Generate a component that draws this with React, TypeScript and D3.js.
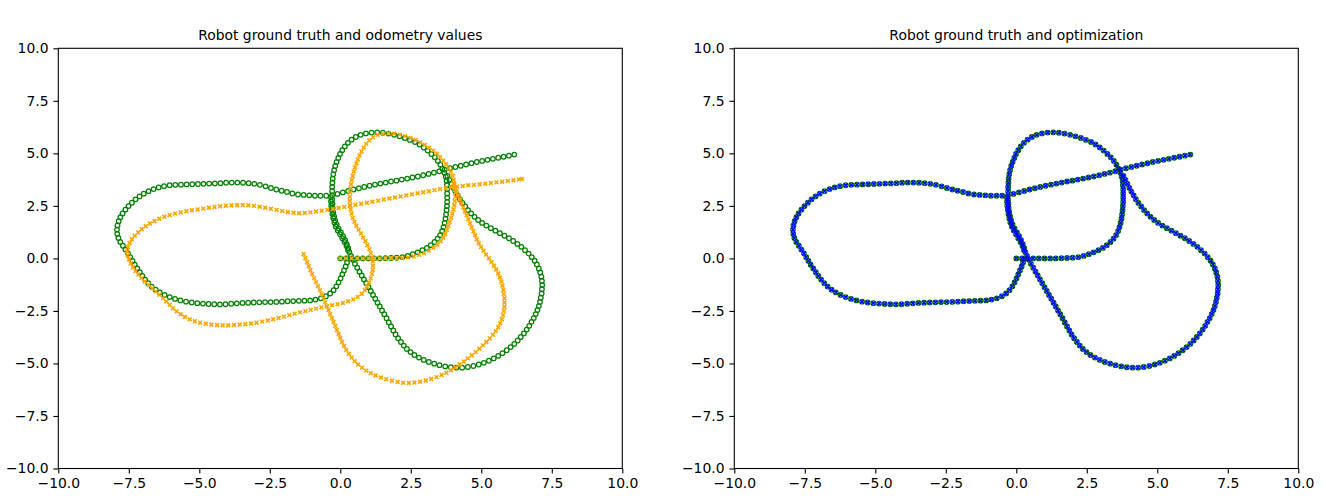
import { useEffect, useRef } from "react"
import * as d3 from "d3"

type Pt = [number, number]

const tickValues = [-10, -7.5, -5, -2.5, 0, 2.5, 5, 7.5, 10]
const tickLabels = ["−10.0", "−7.5", "−5.0", "−2.5", "0.0", "2.5", "5.0", "7.5", "10.0"]
const titles = ["Robot ground truth and odometry values", "Robot ground truth and optimization"]

// ground truth: start line, up the right side, around the top loop, down its left side
const gtStart: Pt[] = [
  [0, 0], [0.2, 0], [0.4, 0], [0.6, 0], [0.8, 0], [1.0, 0], [1.2, 0], [1.4, 0], [1.6, 0.01], [1.8, 0.02],
  [2.0, 0.03], [2.2, 0.06], [2.39, 0.12], [2.57, 0.2], [2.74, 0.29], [2.91, 0.39], [3.07, 0.5], [3.21, 0.63],
  [3.34, 0.78], [3.45, 0.94], [3.54, 1.11], [3.61, 1.3], [3.66, 1.49], [3.7, 1.69], [3.73, 1.89], [3.75, 2.09],
  [3.77, 2.29], [3.78, 2.49], [3.79, 2.69], [3.79, 2.89], [3.79, 3.09], [3.79, 3.29], [3.78, 3.49], [3.77, 3.69],
  [3.74, 3.89], [3.69, 4.08], [3.62, 4.27], [3.55, 4.46], [3.46, 4.64], [3.35, 4.81], [3.23, 4.97], [3.1, 5.13],
  [2.96, 5.28], [2.81, 5.42], [2.65, 5.54], [2.47, 5.64], [2.29, 5.73], [2.1, 5.81], [1.91, 5.88], [1.71, 5.94],
  [1.51, 5.98], [1.31, 6.0], [1.11, 5.99], [0.91, 5.95], [0.72, 5.88], [0.55, 5.78], [0.4, 5.65], [0.27, 5.5],
  [0.16, 5.33], [0.07, 5.15], [-0.01, 4.97], [-0.07, 4.78], [-0.13, 4.59], [-0.18, 4.4], [-0.22, 4.2], [-0.25, 4.0],
  [-0.27, 3.8], [-0.28, 3.6], [-0.29, 3.4], [-0.29, 3.2], [-0.29, 3.0], [-0.29, 2.8], [-0.28, 2.6], [-0.27, 2.4],
  [-0.25, 2.2], [-0.22, 2.0], [-0.18, 1.8], [-0.13, 1.61], [-0.06, 1.42], [0.02, 1.24], [0.1, 1.06], [0.17, 0.87],
  [0.23, 0.68], [0.28, 0.49], [0.32, 0.3],
]

// ground truth: down to the lower right loop and back up to the crossing
const gtRightLoop: Pt[] = [
  [0.38, 0.12], [0.45, -0.07], [0.52, -0.26], [0.6, -0.44], [0.68, -0.63], [0.76, -0.81], [0.84, -1.0], [0.92, -1.18],
  [1.0, -1.37], [1.08, -1.55], [1.16, -1.74], [1.24, -1.92], [1.32, -2.11], [1.4, -2.29], [1.48, -2.48], [1.56, -2.66],
  [1.64, -2.85], [1.72, -3.05], [1.8, -3.24], [1.88, -3.43], [1.96, -3.62], [2.05, -3.8], [2.15, -3.98], [2.25, -4.15],
  [2.36, -4.31], [2.49, -4.46], [2.63, -4.6], [2.79, -4.72], [2.96, -4.83], [3.14, -4.93], [3.33, -5.01], [3.52, -5.08],
  [3.72, -5.14], [3.92, -5.18], [4.12, -5.2], [4.32, -5.2], [4.52, -5.17], [4.72, -5.12], [4.91, -5.05], [5.09, -4.97],
  [5.27, -4.87], [5.44, -4.76], [5.6, -4.64], [5.75, -4.51], [5.9, -4.37], [6.04, -4.22], [6.17, -4.07], [6.29, -3.91],
  [6.4, -3.74], [6.51, -3.57], [6.61, -3.39], [6.7, -3.21], [6.78, -3.02], [6.86, -2.84], [6.93, -2.65], [6.99, -2.46],
  [7.04, -2.27], [7.08, -2.07], [7.11, -1.87], [7.14, -1.67], [7.15, -1.47], [7.16, -1.27], [7.15, -1.07], [7.13, -0.87],
  [7.09, -0.67], [7.04, -0.48], [6.97, -0.29], [6.89, -0.11], [6.79, 0.06], [6.68, 0.23], [6.55, 0.39], [6.42, 0.55],
  [6.28, 0.69], [6.13, 0.83], [5.98, 0.96], [5.82, 1.08], [5.66, 1.2], [5.5, 1.32], [5.34, 1.44], [5.18, 1.56],
  [5.03, 1.69], [4.89, 1.83], [4.76, 1.98], [4.64, 2.14], [4.53, 2.3], [4.43, 2.47], [4.33, 2.64], [4.24, 2.82],
  [4.16, 3.0], [4.08, 3.18], [4.01, 3.36], [3.94, 3.55], [3.87, 3.74], [3.8, 3.92],
]

// ground truth: the straight run out to the end point
const gtCrossLine: Pt[] = [
  [-0.1, 3.07], [0.09, 3.14], [0.28, 3.21], [0.47, 3.28], [0.66, 3.34], [0.85, 3.4], [1.04, 3.46], [1.23, 3.51],
  [1.42, 3.56], [1.61, 3.61], [1.8, 3.66], [1.99, 3.7], [2.18, 3.75], [2.37, 3.8], [2.56, 3.85], [2.75, 3.9],
  [2.94, 3.96], [3.13, 4.02], [3.32, 4.08], [3.51, 4.15], [3.7, 4.22], [3.89, 4.29], [4.08, 4.35], [4.27, 4.41],
  [4.46, 4.47], [4.65, 4.53], [4.84, 4.59], [5.03, 4.64], [5.22, 4.69], [5.41, 4.74], [5.6, 4.79], [5.79, 4.84],
  [5.98, 4.89], [6.17, 4.94],
]

// ground truth: the big loop on the left
const gtLeftLoop: Pt[] = [
  [-0.5, 2.98], [-0.7, 2.98], [-0.9, 2.98], [-1.1, 3.0], [-1.3, 3.02], [-1.5, 3.04], [-1.7, 3.09], [-1.89, 3.16],
  [-2.08, 3.22], [-2.27, 3.28], [-2.46, 3.35], [-2.65, 3.43], [-2.85, 3.5], [-3.05, 3.55], [-3.25, 3.58], [-3.45, 3.6],
  [-3.65, 3.61], [-3.85, 3.61], [-4.05, 3.6], [-4.25, 3.58], [-4.45, 3.57], [-4.65, 3.56], [-4.85, 3.55], [-5.05, 3.54],
  [-5.25, 3.53], [-5.45, 3.52], [-5.65, 3.51], [-5.85, 3.5], [-6.05, 3.48], [-6.25, 3.44], [-6.44, 3.38], [-6.62, 3.3],
  [-6.8, 3.2], [-6.97, 3.08], [-7.12, 2.95], [-7.26, 2.81], [-7.39, 2.65], [-7.51, 2.49], [-7.62, 2.32], [-7.72, 2.14],
  [-7.8, 1.96], [-7.86, 1.77], [-7.9, 1.57], [-7.92, 1.37], [-7.91, 1.17], [-7.87, 0.97], [-7.8, 0.78], [-7.71, 0.6],
  [-7.62, 0.42], [-7.53, 0.24], [-7.45, 0.06], [-7.37, -0.12], [-7.29, -0.3], [-7.2, -0.48], [-7.11, -0.66], [-7.02, -0.84],
  [-6.92, -1.01], [-6.81, -1.18], [-6.69, -1.34], [-6.55, -1.49], [-6.4, -1.62], [-6.23, -1.74], [-6.05, -1.84], [-5.86, -1.93],
  [-5.67, -2.0], [-5.47, -2.06], [-5.27, -2.1], [-5.07, -2.13], [-4.87, -2.15], [-4.67, -2.17], [-4.47, -2.18], [-4.27, -2.19],
  [-4.07, -2.18], [-3.87, -2.16], [-3.67, -2.14], [-3.47, -2.12], [-3.27, -2.11], [-3.07, -2.1], [-2.87, -2.09], [-2.67, -2.08],
  [-2.47, -2.08], [-2.27, -2.07], [-2.07, -2.06], [-1.87, -2.04], [-1.67, -2.03], [-1.47, -2.02], [-1.27, -2.01], [-1.07, -2.0],
  [-0.88, -1.96], [-0.69, -1.9], [-0.51, -1.8], [-0.36, -1.67], [-0.24, -1.51], [-0.14, -1.33], [-0.06, -1.14], [0.01, -0.95],
  [0.07, -0.76], [0.13, -0.57], [0.19, -0.38], [0.24, -0.19], [0.28, 0.0],
]

// ground truth: second pass up the left side of the top loop
const gtReturn: Pt[] = [
  [0.27, 0.4], [0.22, 0.59], [0.15, 0.78], [0.07, 0.96], [-0.01, 1.15], [-0.09, 1.33], [-0.16, 1.52], [-0.21, 1.71],
  [-0.25, 1.91], [-0.28, 2.11], [-0.3, 2.31], [-0.32, 2.51], [-0.33, 2.71], [-0.33, 2.91],
]

// odometry: start line, top loop, down its left side
const odoStart: Pt[] = [
  [0, 0], [0.2, 0], [0.4, 0], [0.6, 0], [0.8, 0], [1.0, 0], [1.2, 0], [1.4, 0], [1.6, 0], [1.8, 0.01],
  [2.0, 0.01], [2.2, 0.02], [2.4, 0.05], [2.6, 0.1], [2.79, 0.17], [2.97, 0.26], [3.14, 0.37], [3.3, 0.5],
  [3.44, 0.65], [3.56, 0.81], [3.65, 0.98], [3.72, 1.16], [3.78, 1.35], [3.83, 1.54], [3.88, 1.73], [3.93, 1.93],
  [3.97, 2.13], [4.01, 2.33], [4.04, 2.53], [4.06, 2.73], [4.08, 2.93], [4.08, 3.13], [4.07, 3.33], [4.05, 3.53],
  [4.02, 3.73], [3.98, 3.93], [3.92, 4.12], [3.84, 4.3], [3.75, 4.48], [3.65, 4.65], [3.54, 4.82], [3.42, 4.98],
  [3.29, 5.13], [3.15, 5.27], [3.0, 5.4], [2.84, 5.52], [2.67, 5.63], [2.49, 5.73], [2.3, 5.82], [2.11, 5.89],
  [1.91, 5.94], [1.71, 5.96], [1.51, 5.94], [1.32, 5.88], [1.16, 5.77], [1.03, 5.62], [0.92, 5.45], [0.83, 5.27],
  [0.75, 5.09], [0.68, 4.9], [0.62, 4.71], [0.57, 4.52], [0.52, 4.33], [0.48, 4.13], [0.44, 3.93], [0.41, 3.73],
  [0.38, 3.53], [0.36, 3.33], [0.35, 3.13], [0.34, 2.93], [0.34, 2.73], [0.35, 2.53], [0.37, 2.33], [0.4, 2.13],
  [0.44, 1.93], [0.5, 1.74], [0.57, 1.55], [0.65, 1.37], [0.73, 1.19], [0.81, 1.0], [0.89, 0.82], [0.96, 0.63],
  [1.03, 0.44], [1.08, 0.25], [1.13, 0.05], [1.15, -0.15], [1.16, -0.35], [1.15, -0.55], [1.12, -0.75], [1.08, -0.95],
  [1.02, -1.14], [0.95, -1.33], [0.87, -1.51], [0.76, -1.68], [0.62, -1.83], [0.46, -1.95], [0.28, -2.04], [0.09, -2.12],
]

// odometry: left loop and the run out to its end point
const odoLeftLoop: Pt[] = [
  [-0.1, -2.18], [-0.29, -2.23], [-0.48, -2.28], [-0.67, -2.33], [-0.86, -2.39], [-1.05, -2.45], [-1.24, -2.51], [-1.43, -2.57],
  [-1.62, -2.63], [-1.81, -2.7], [-2.0, -2.77], [-2.19, -2.84], [-2.38, -2.9], [-2.57, -2.96], [-2.77, -3.01], [-2.97, -3.06],
  [-3.17, -3.1], [-3.37, -3.13], [-3.57, -3.15], [-3.77, -3.17], [-3.97, -3.18], [-4.17, -3.18], [-4.37, -3.17], [-4.57, -3.15],
  [-4.77, -3.11], [-4.97, -3.06], [-5.16, -2.99], [-5.34, -2.9], [-5.51, -2.79], [-5.66, -2.66], [-5.8, -2.52], [-5.93, -2.37],
  [-6.05, -2.21], [-6.17, -2.05], [-6.29, -1.89], [-6.41, -1.73], [-6.54, -1.57], [-6.67, -1.42], [-6.8, -1.26], [-6.93, -1.1],
  [-7.05, -0.94], [-7.16, -0.77], [-7.26, -0.6], [-7.35, -0.42], [-7.43, -0.24], [-7.49, -0.05], [-7.54, 0.14], [-7.56, 0.34],
  [-7.53, 0.54], [-7.47, 0.73], [-7.39, 0.91], [-7.29, 1.08], [-7.17, 1.24], [-7.04, 1.39], [-6.9, 1.53], [-6.75, 1.66],
  [-6.59, 1.78], [-6.42, 1.89], [-6.24, 1.98], [-6.05, 2.06], [-5.86, 2.13], [-5.66, 2.19], [-5.46, 2.24], [-5.26, 2.29],
  [-5.06, 2.33], [-4.86, 2.37], [-4.66, 2.41], [-4.46, 2.45], [-4.26, 2.48], [-4.06, 2.51], [-3.86, 2.53], [-3.66, 2.54],
  [-3.46, 2.54], [-3.26, 2.53], [-3.06, 2.5], [-2.86, 2.46], [-2.66, 2.41], [-2.46, 2.36], [-2.26, 2.31], [-2.06, 2.26],
  [-1.86, 2.21], [-1.66, 2.17], [-1.46, 2.15], [-1.26, 2.16], [-1.06, 2.19], [-0.86, 2.23], [-0.66, 2.27], [-0.46, 2.31],
  [-0.26, 2.35], [-0.06, 2.4], [0.14, 2.45], [0.34, 2.5], [0.54, 2.55], [0.74, 2.6], [0.94, 2.65], [1.14, 2.7],
  [1.34, 2.75], [1.54, 2.8], [1.74, 2.85], [1.94, 2.9], [2.14, 2.95], [2.34, 3.0], [2.54, 3.05], [2.74, 3.1],
  [2.94, 3.15], [3.14, 3.2], [3.34, 3.25], [3.54, 3.3], [3.74, 3.35], [3.94, 3.39], [4.14, 3.42], [4.34, 3.45],
  [4.54, 3.48], [4.74, 3.5], [4.94, 3.53], [5.14, 3.56], [5.34, 3.59], [5.54, 3.62], [5.74, 3.65], [5.94, 3.69],
  [6.14, 3.72], [6.34, 3.76], [6.44, 3.78],
]

// odometry: lower right loop
const odoRightLoop: Pt[] = [
  [-1.3, 0.2], [-1.24, 0.01], [-1.18, -0.18], [-1.12, -0.37], [-1.06, -0.56], [-1.0, -0.75], [-0.93, -0.94], [-0.86, -1.13],
  [-0.79, -1.32], [-0.72, -1.51], [-0.66, -1.7], [-0.6, -1.89], [-0.54, -2.08], [-0.48, -2.27], [-0.42, -2.46], [-0.36, -2.65],
  [-0.3, -2.84], [-0.24, -3.03], [-0.18, -3.22], [-0.12, -3.41], [-0.06, -3.6], [0.0, -3.79], [0.06, -3.98], [0.13, -4.17],
  [0.21, -4.36], [0.3, -4.54], [0.4, -4.72], [0.51, -4.89], [0.63, -5.05], [0.77, -5.2], [0.92, -5.34], [1.08, -5.46],
  [1.25, -5.57], [1.44, -5.67], [1.63, -5.75], [1.83, -5.82], [2.03, -5.88], [2.23, -5.92], [2.43, -5.93], [2.63, -5.91],
  [2.83, -5.87], [3.03, -5.81], [3.22, -5.74], [3.41, -5.65], [3.59, -5.55], [3.76, -5.44], [3.92, -5.32], [4.08, -5.19],
  [4.23, -5.05], [4.38, -4.91], [4.52, -4.76], [4.66, -4.61], [4.8, -4.46], [4.93, -4.3], [5.06, -4.14], [5.18, -3.98],
  [5.3, -3.81], [5.41, -3.64], [5.51, -3.46], [5.6, -3.28], [5.67, -3.09], [5.73, -2.9], [5.77, -2.7], [5.8, -2.5],
  [5.82, -2.3], [5.82, -2.1], [5.82, -1.9], [5.8, -1.7], [5.78, -1.5], [5.75, -1.3], [5.71, -1.1], [5.66, -0.91],
  [5.6, -0.72], [5.53, -0.53], [5.45, -0.35], [5.36, -0.17], [5.27, 0.01], [5.17, 0.18], [5.08, 0.36], [4.99, 0.54],
  [4.91, 0.72], [4.84, 0.91], [4.78, 1.1], [4.72, 1.29], [4.66, 1.48], [4.6, 1.67], [4.54, 1.86], [4.48, 2.05],
  [4.42, 2.24], [4.36, 2.43], [4.3, 2.62], [4.24, 2.81], [4.18, 3.0], [4.12, 3.19], [4.06, 3.38], [4.01, 3.56],
]

const groundTruth: Pt[] = [...gtStart, ...gtRightLoop, ...gtCrossLine, ...gtLeftLoop, ...gtReturn]
const odometry: Pt[] = [...odoStart, ...odoLeftLoop, ...odoRightLoop]
// the optimised poses land on the ground truth to within a pixel
const optimized: Pt[] = groundTruth

const FONT = "DejaVu Sans, sans-serif"

const App = () => {
  const svgRef = useRef<SVGSVGElement | null>(null)

  useEffect(() => {
    if (!svgRef.current) return
    const svg = d3.select(svgRef.current)
    svg.selectAll("*").remove()

    const top = 48.3
    const width = 564
    const height = 420.2

    const panels = [
      { left: 58.3, title: titles[0], data: odometry, color: "#ffa500", half: 1.9, sw: 1.6 },
      { left: 734.3, title: titles[1], data: optimized, color: "#0000ff", half: 1.9, sw: 1.5 },
    ]

    panels.forEach((p) => {
      const x = d3.scaleLinear().domain([-10, 10]).range([0, width])
      const y = d3.scaleLinear().domain([-10, 10]).range([height, 0])

      const g = svg.append("g").attr("transform", `translate(${p.left},${top})`)

      // ground truth circles
      g.append("g")
        .selectAll("circle")
        .data(groundTruth)
        .join("circle")
        .attr("cx", (d) => x(d[0]))
        .attr("cy", (d) => y(d[1]))
        .attr("r", 2.3)
        .attr("fill", "none")
        .attr("stroke", "#008000")
        .attr("stroke-width", 1.25)

      // x markers
      const h = p.half
      g.append("g")
        .selectAll("path")
        .data(p.data)
        .join("path")
        .attr("transform", (d) => `translate(${x(d[0])},${y(d[1])})`)
        .attr("d", `M${-h},${-h}L${h},${h}M${-h},${h}L${h},${-h}`)
        .attr("stroke", p.color)
        .attr("stroke-width", p.sw)
        .attr("fill", "none")

      // axes
      const xAxis = g
        .append("g")
        .attr("transform", `translate(0,${height})`)
        .call(
          d3
            .axisBottom(x)
            .tickValues(tickValues)
            .tickFormat((_, i) => tickLabels[i])
            .tickSize(4.9)
            .tickSizeOuter(0)
            .tickPadding(4.9),
        )
      const yAxis = g.append("g").call(
        d3
          .axisLeft(y)
          .tickValues(tickValues)
          .tickFormat((_, i) => tickLabels[i])
          .tickSize(4.9)
          .tickSizeOuter(0)
          .tickPadding(4.9),
      )
      ;[xAxis, yAxis].forEach((a) => {
        a.select(".domain").remove()
        a.selectAll("line").attr("stroke", "#000").attr("stroke-width", 1.1)
        a.selectAll("text").attr("fill", "#000").style("font-family", FONT).style("font-size", "13.9px")
      })

      // spines
      g.append("rect")
        .attr("width", width)
        .attr("height", height)
        .attr("fill", "none")
        .attr("stroke", "#000")
        .attr("stroke-width", 1.1)

      g.append("text")
        .attr("x", width / 2)
        .attr("y", -8.3)
        .attr("text-anchor", "middle")
        .style("font-family", FONT)
        .style("font-size", "13.9px")
        .text(p.title)
    })
  }, [])

  return (
    <svg
      ref={svgRef}
      width={1326}
      height={504}
      style={{ position: "absolute", left: 0, top: 0, background: "#fff" }}
    />
  )
}

export default App
